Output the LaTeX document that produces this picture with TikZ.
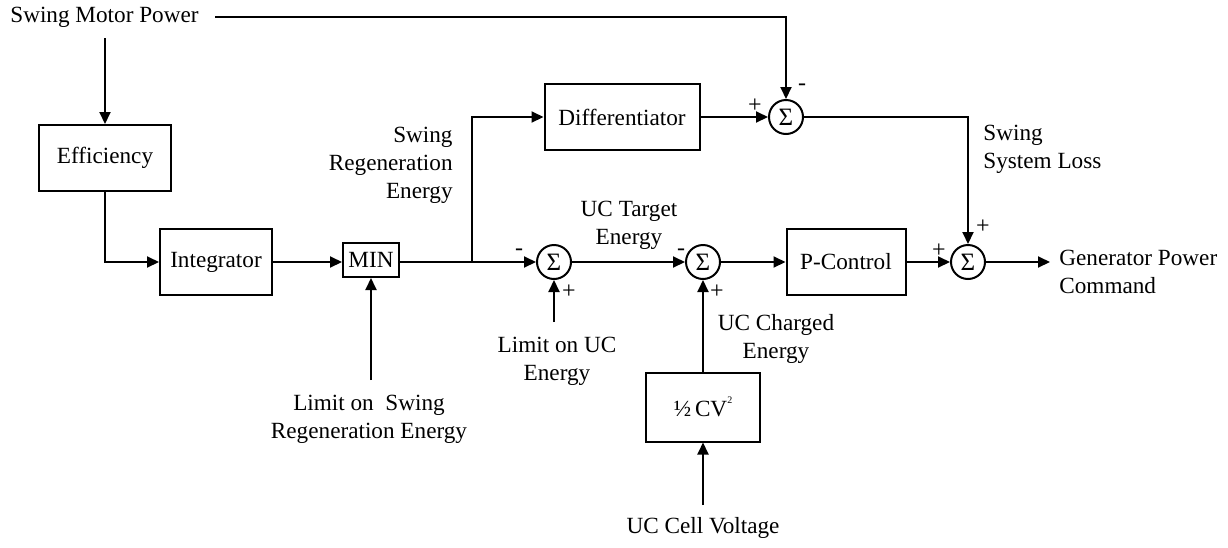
\documentclass[tikz,border=0pt]{standalone}
\usepackage{fontspec}
\setmainfont{Liberation Serif}
\usetikzlibrary{arrows.meta}
\tikzset{
  blk/.style={draw, rectangle, line width=1pt, inner sep=0pt, align=center},
  sumnode/.style={draw, circle, line width=1pt, minimum size=17pt, inner sep=0pt, font=\fontsize{12.5}{14}\selectfont},
  lbl/.style={inner sep=0pt, align=center},
  sgn/.style={inner sep=0pt, font=\fontsize{12}{14}\selectfont},
  conn/.style={line width=1pt, -{Triangle[length=6pt,width=5.5pt]}},
  plain/.style={line width=1pt}
}
\begin{document}
\begin{tikzpicture}[x=0.5pt,y=-0.5pt, font=\fontsize{11.6}{14}\selectfont]
\useasboundingbox (0,0) rectangle (1228,547);
% blocks
\node[blk, minimum width=66pt, minimum height=33pt] (eff) at (105,158) {Efficiency};
\node[blk, minimum width=56pt, minimum height=33pt] (int) at (216,262) {Integrator};
\node[blk, minimum width=28pt, minimum height=17pt] (min) at (371,260) {MIN};
\node[blk, minimum width=77.5pt, minimum height=33pt] (dif) at (622,117) {Differentiator};
\node[blk, minimum width=59.5pt, minimum height=33pt] (pc) at (846,262) {P-Control};
\node[blk, minimum width=57pt, minimum height=34.5pt] (cv) at (703,407) {½\,CV\raisebox{1.2ex}{\fontsize{5}{5}\selectfont 2}};
% sums
\node[sumnode] (s1) at (786,117) {Σ};
\node[sumnode] (s2) at (554,262) {Σ};
\node[sumnode] (s3) at (703,262) {Σ};
\node[sumnode] (s4) at (968,262) {Σ};
% labels
\node[lbl, anchor=west] (smp) at (10,17) {Swing Motor Power};
\node[lbl, anchor=east, align=right] (sre) at (453,165) {Swing\\Regeneration\\Energy};
\node[lbl] (ute) at (629,225) {UC Target\\Energy};
\node[lbl] (uce) at (776,339) {UC Charged\\Energy};
\node[lbl] (luc) at (557,361) {Limit on UC\\Energy};
\node[lbl] (lsr) at (369,419) {Limit on~~Swing\\Regeneration Energy};
\node[lbl, anchor=west, align=left] (ssl) at (983,149) {Swing\\System Loss};
\node[lbl, anchor=west, align=left] (gpc) at (1059,272) {Generator Power\\Command};
\node[lbl] (ucv) at (703,528) {UC Cell Voltage};
% signs
\node[sgn] (p1a) at (755,106) {+};
\node[sgn] (m1b) at (802,87) {-};
\node[sgn] (m2a) at (519,252) {-};
\node[sgn] (p2b) at (569,292) {+};
\node[sgn] (m3a) at (681,252) {-};
\node[sgn] (p3b) at (717,292) {+};
\node[sgn] (p4a) at (939,251) {+};
\node[sgn] (p4b) at (983,227) {+};
% free ends
\coordinate (smpR) at (215,17);
\coordinate (smpB) at (105,38);
\coordinate (br) at (472,262);
\coordinate (lucT) at (554,322);
\coordinate (lsrT) at (371,380);
\coordinate (ucvT) at (703,505);
\coordinate (outE) at (1050,262);
% connectors
\draw[conn] (smpR) -| (s1.north);
\draw[conn] (smpB) -- (eff.north);
\draw[conn] (eff.south) |- (int.west);
\draw[conn] (int.east) -- (min.west |- int.east);
\draw[plain] (min.east |- br) -- (br);
\draw[conn] (br) -- (s2.west);
\draw[conn] (br) |- (dif.west);
\draw[conn] (dif.east) -- (s1.west);
\draw[conn] (s1.east) -| (s4.north);
\draw[conn] (s2.east) -- (s3.west);
\draw[conn] (s3.east) -- (pc.west);
\draw[conn] (pc.east) -- (s4.west);
\draw[conn] (s4.east) -- (outE);
\draw[conn] (lucT) -- (s2.south);
\draw[conn] (cv.north) -- (s3.south);
\draw[conn] (ucvT) -- (cv.south);
\draw[conn] (lsrT) -- (min.south);
\end{tikzpicture}
\end{document}
